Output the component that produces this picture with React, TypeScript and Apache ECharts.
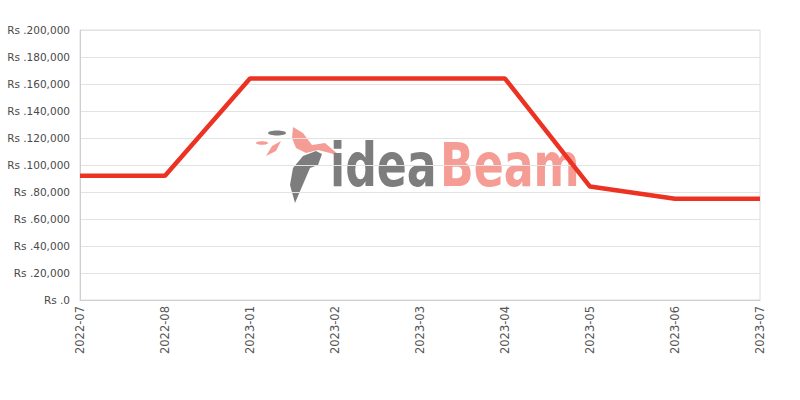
import { useEffect, useRef } from 'react';
import * as echarts from 'echarts';

const months = [
  '2022-07',
  '2022-08',
  '2023-01',
  '2023-02',
  '2023-03',
  '2023-04',
  '2023-05',
  '2023-06',
  '2023-07',
];
const prices = [92000, 92000, 164000, 164000, 164000, 164000, 84000, 75000, 75000];

const GRAY = '#7d7d7d';
const PINK = '#f59d95';
const LOGO_FONT = 'bold 60px "DejaVu Sans Condensed", "DejaVu Sans"';

export default function App() {
  const ref = useRef<HTMLDivElement>(null);

  useEffect(() => {
    document.body.style.margin = '0';
    if (!ref.current) return;
    const chart = echarts.init(ref.current, undefined, { renderer: 'svg' });

    chart.setOption({
      animation: false,
      backgroundColor: '#fff',
      grid: {
        left: 80,
        right: 40,
        top: 30,
        bottom: 100,
        show: true,
        borderColor: '#dcdcdc',
        borderWidth: 1,
      },
      xAxis: {
        type: 'category',
        data: months,
        boundaryGap: false,
        axisLine: { lineStyle: { color: '#cfcfcf' } },
        axisTick: { show: false },
        axisLabel: {
          rotate: 90,
          fontFamily: 'DejaVu Sans',
          fontSize: 11.5,
          color: '#555',
          margin: 6,
          interval: 0,
        },
      },
      yAxis: {
        type: 'value',
        min: 0,
        max: 200000,
        interval: 20000,
        axisLine: { show: true, lineStyle: { color: '#cfcfcf' } },
        splitLine: { lineStyle: { color: '#e3e3e3' } },
        axisLabel: {
          fontFamily: 'DejaVu Sans',
          fontSize: 10.5,
          color: '#4a4a4a',
          margin: 10,
          formatter: (v: number) => 'Rs .' + v.toLocaleString('en-US'),
        },
      },
      graphic: [
        // watermark logo
        {
          type: 'ellipse',
          z: 0,
          shape: { cx: 277, cy: 133, rx: 9, ry: 2.5 },
          style: { fill: GRAY },
        },
        {
          type: 'ellipse',
          z: 0,
          shape: { cx: 262, cy: 143, rx: 6, ry: 1.8 },
          style: { fill: PINK },
        },
        {
          type: 'polygon',
          z: 0,
          shape: { points: [[266, 156], [272, 146], [281, 141], [276, 151]] },
          style: { fill: PINK },
        },
        {
          type: 'polygon',
          z: 0,
          shape: {
            points: [
              [293, 127],
              [303, 133],
              [312, 145],
              [325, 143],
              [333, 150],
              [342, 157],
              [330, 153],
              [318, 150],
              [306, 153],
              [296, 148],
              [292, 138],
            ],
          },
          style: { fill: PINK },
        },
        {
          type: 'polygon',
          z: 0,
          shape: {
            points: [
              [295, 203],
              [290, 185],
              [293, 168],
              [303, 156],
              [316, 151],
              [322, 154],
              [318, 165],
              [310, 168],
              [304, 182],
            ],
          },
          style: { fill: GRAY },
        },
        {
          type: 'text',
          z: 0,
          x: 330,
          y: 195,
          scaleX: 0.82,
          style: {
            text: 'idea',
            font: LOGO_FONT,
            fill: GRAY,
            textVerticalAlign: 'bottom',
          },
        },
        {
          type: 'text',
          z: 0,
          x: 440,
          y: 195,
          scaleX: 0.82,
          style: {
            text: 'Beam',
            font: LOGO_FONT,
            fill: PINK,
            textVerticalAlign: 'bottom',
          },
        },
      ],
      series: [
        {
          type: 'line',
          data: prices,
          z: 5,
          symbol: 'none',
          lineStyle: { color: '#ec3323', width: 4.5 },
        },
      ],
    });

    return () => chart.dispose();
  }, []);

  return <div ref={ref} style={{ width: 800, height: 400 }} />;
}
